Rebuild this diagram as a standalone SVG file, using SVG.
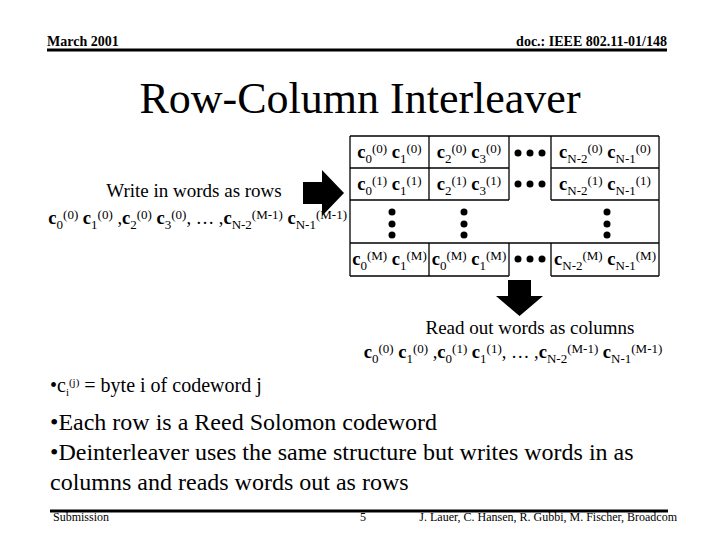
<svg xmlns="http://www.w3.org/2000/svg" width="720" height="540" viewBox="0 0 720 540">
<style>
text { font-family: "Liberation Serif", "Times New Roman", serif; fill: #000; }
.hdr { font-size: 14px; font-weight: bold; }
.ftr { font-size: 12px; }
.title { font-size: 44px; }
.cell { font-size: 18.5px; }
.b { font-weight: bold; }
.s { font-size: 13px; font-weight: normal; }
.lbl { font-size: 19px; }
.bul { font-size: 24px; }
.bul1 { font-size: 20px; }
.tiny { font-size: 11px; }
.grid line { stroke: #000; stroke-width: 1.3; }
.rule { stroke: #000; stroke-width: 3; }
</style>

<g id="header">
  <text class="hdr" x="47" y="46">March 2001</text>
  <text class="hdr" x="667" y="46" text-anchor="end">doc.: IEEE 802.11-01/148</text>
  <line class="rule" x1="47" y1="50" x2="667" y2="50"/>
</g>

<g id="title">
  <text class="title" x="360" y="113" text-anchor="middle">Row-Column Interleaver</text>
</g>

<g id="grid" class="grid">
  <line x1="350" y1="136" x2="659" y2="136"/>
  <line x1="350" y1="168" x2="509" y2="168"/>
  <line x1="551" y1="168" x2="659" y2="168"/>
  <line x1="350" y1="200" x2="509" y2="200"/>
  <line x1="551" y1="200" x2="659" y2="200"/>
  <line x1="350" y1="243" x2="659" y2="243"/>
  <line x1="350" y1="276" x2="509" y2="276"/>
  <line x1="551" y1="276" x2="659" y2="276"/>
  <line x1="350" y1="136" x2="350" y2="276"/>
  <line x1="659" y1="136" x2="659" y2="276"/>
  <line x1="429" y1="136" x2="429" y2="200"/>
  <line x1="509" y1="136" x2="509" y2="200"/>
  <line x1="551" y1="136" x2="551" y2="200"/>
  <line x1="429" y1="243" x2="429" y2="276"/>
  <line x1="509" y1="243" x2="509" y2="276"/>
  <line x1="551" y1="243" x2="551" y2="276"/>
</g>

<g id="row0">
  <text class="cell" x="389.5" y="158" text-anchor="middle"><tspan class="b">c</tspan><tspan class="s" dy="5">0</tspan><tspan class="s" dy="-10">(0)</tspan><tspan dy="5"> </tspan><tspan class="b">c</tspan><tspan class="s" dy="5">1</tspan><tspan class="s" dy="-10">(0)</tspan></text>
  <text class="cell" x="469" y="158" text-anchor="middle"><tspan class="b">c</tspan><tspan class="s" dy="5">2</tspan><tspan class="s" dy="-10">(0)</tspan><tspan dy="5"> </tspan><tspan class="b">c</tspan><tspan class="s" dy="5">3</tspan><tspan class="s" dy="-10">(0)</tspan></text>
  <text class="cell" x="605" y="158" text-anchor="middle"><tspan class="b">c</tspan><tspan class="s" dy="5">N-2</tspan><tspan class="s" dy="-10">(0)</tspan><tspan dy="5"> </tspan><tspan class="b">c</tspan><tspan class="s" dy="5">N-1</tspan><tspan class="s" dy="-10">(0)</tspan></text>
</g>

<g id="row1">
  <text class="cell" x="389.5" y="190" text-anchor="middle"><tspan class="b">c</tspan><tspan class="s" dy="5">0</tspan><tspan class="s" dy="-10">(1)</tspan><tspan dy="5"> </tspan><tspan class="b">c</tspan><tspan class="s" dy="5">1</tspan><tspan class="s" dy="-10">(1)</tspan></text>
  <text class="cell" x="469" y="190" text-anchor="middle"><tspan class="b">c</tspan><tspan class="s" dy="5">2</tspan><tspan class="s" dy="-10">(1)</tspan><tspan dy="5"> </tspan><tspan class="b">c</tspan><tspan class="s" dy="5">3</tspan><tspan class="s" dy="-10">(1)</tspan></text>
  <text class="cell" x="605" y="190" text-anchor="middle"><tspan class="b">c</tspan><tspan class="s" dy="5">N-2</tspan><tspan class="s" dy="-10">(1)</tspan><tspan dy="5"> </tspan><tspan class="b">c</tspan><tspan class="s" dy="5">N-1</tspan><tspan class="s" dy="-10">(1)</tspan></text>
</g>

<g id="rowM">
  <text class="cell" x="389.5" y="265" text-anchor="middle"><tspan class="b">c</tspan><tspan class="s" dy="5">0</tspan><tspan class="s" dy="-10">(M)</tspan><tspan dy="5"> </tspan><tspan class="b">c</tspan><tspan class="s" dy="5">1</tspan><tspan class="s" dy="-10">(M)</tspan></text>
  <text class="cell" x="469" y="265" text-anchor="middle"><tspan class="b">c</tspan><tspan class="s" dy="5">0</tspan><tspan class="s" dy="-10">(M)</tspan><tspan dy="5"> </tspan><tspan class="b">c</tspan><tspan class="s" dy="5">1</tspan><tspan class="s" dy="-10">(M)</tspan></text>
  <text class="cell" x="605" y="265" text-anchor="middle"><tspan class="b">c</tspan><tspan class="s" dy="5">N-2</tspan><tspan class="s" dy="-10">(M)</tspan><tspan dy="5"> </tspan><tspan class="b">c</tspan><tspan class="s" dy="5">N-1</tspan><tspan class="s" dy="-10">(M)</tspan></text>
</g>

<g id="dots">
  <circle cx="518" cy="153" r="3.5"/><circle cx="530" cy="153" r="3.5"/><circle cx="542" cy="153" r="3.5"/>
  <circle cx="518" cy="184" r="3.5"/><circle cx="530" cy="184" r="3.5"/><circle cx="542" cy="184" r="3.5"/>
  <circle cx="518" cy="259" r="3.5"/><circle cx="530" cy="259" r="3.5"/><circle cx="542" cy="259" r="3.5"/>
  <circle cx="392" cy="212" r="3.5"/><circle cx="392" cy="224" r="3.5"/><circle cx="392" cy="235" r="3.5"/>
  <circle cx="464" cy="212" r="3.5"/><circle cx="464" cy="224" r="3.5"/><circle cx="464" cy="235" r="3.5"/>
  <circle cx="607" cy="212" r="3.5"/><circle cx="607" cy="224" r="3.5"/><circle cx="607" cy="235" r="3.5"/>
</g>

<g id="write-in">
  <text class="lbl" x="194" y="197" text-anchor="middle">Write in words as rows</text>
  <text class="cell" x="347" y="224" text-anchor="end"><tspan class="b">c</tspan><tspan class="s" dy="5">0</tspan><tspan class="s" dy="-10">(0)</tspan><tspan dy="5"> </tspan><tspan class="b">c</tspan><tspan class="s" dy="5">1</tspan><tspan class="s" dy="-10">(0)</tspan><tspan dy="5"> ,</tspan><tspan class="b">c</tspan><tspan class="s" dy="5">2</tspan><tspan class="s" dy="-10">(0)</tspan><tspan dy="5"> </tspan><tspan class="b">c</tspan><tspan class="s" dy="5">3</tspan><tspan class="s" dy="-10">(0)</tspan><tspan dy="5">, … ,</tspan><tspan class="b">c</tspan><tspan class="s" dy="5">N-2</tspan><tspan class="s" dy="-10">(M-1)</tspan><tspan dy="5"> </tspan><tspan class="b">c</tspan><tspan class="s" dy="5">N-1</tspan><tspan class="s" dy="-10">(M-1)</tspan></text>
</g>

<g id="arrows">
  <polygon points="303,182 322,182 322,170 344,193 322,216 322,204 303,204"/>
  <polygon points="508,280 531,280 531,296 543,296 519.5,316 496,296 508,296"/>
</g>

<g id="read-out">
  <text class="lbl" x="530" y="334" text-anchor="middle">Read out words as columns</text>
  <text class="cell" x="513" y="358" text-anchor="middle"><tspan class="b">c</tspan><tspan class="s" dy="5">0</tspan><tspan class="s" dy="-10">(0)</tspan><tspan dy="5"> </tspan><tspan class="b">c</tspan><tspan class="s" dy="5">1</tspan><tspan class="s" dy="-10">(0)</tspan><tspan dy="5"> ,</tspan><tspan class="b">c</tspan><tspan class="s" dy="5">0</tspan><tspan class="s" dy="-10">(1)</tspan><tspan dy="5"> </tspan><tspan class="b">c</tspan><tspan class="s" dy="5">1</tspan><tspan class="s" dy="-10">(1)</tspan><tspan dy="5">, … ,</tspan><tspan class="b">c</tspan><tspan class="s" dy="5">N-2</tspan><tspan class="s" dy="-10">(M-1)</tspan><tspan dy="5"> </tspan><tspan class="b">c</tspan><tspan class="s" dy="5">N-1</tspan><tspan class="s" dy="-10">(M-1)</tspan></text>
</g>

<g id="bullets">
  <text class="bul1" x="50" y="392">•c<tspan class="tiny" dy="4">i</tspan><tspan class="tiny" dy="-10">(j)</tspan><tspan dy="6"> = byte i of codeword j</tspan></text>
  <text class="bul" x="50" y="430">•Each row is a Reed Solomon codeword</text>
  <text class="bul" x="50" y="460">•Deinterleaver uses the same structure but writes words in as</text>
  <text class="bul" x="50" y="490">columns and reads words out as rows</text>
</g>

<g id="footer">
  <line class="rule" x1="50" y1="511" x2="668" y2="511"/>
  <text class="ftr" x="53" y="521">Submission</text>
  <text class="ftr" x="363" y="521" text-anchor="middle">5</text>
  <text class="ftr" x="677" y="521" text-anchor="end">J. Lauer, C. Hansen, R. Gubbi, M. Fischer, Broadcom</text>
</g>
</svg>
